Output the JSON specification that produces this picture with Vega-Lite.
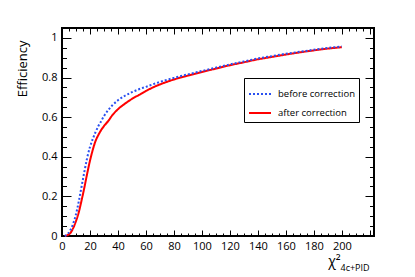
{
  "$schema": "https://vega.github.io/schema/vega-lite/v6.json",
  "autosize": "none",
  "width": 312,
  "height": 208,
  "padding": {"left": 62, "top": 28, "right": 41, "bottom": 41},
  "background": "white",
  "config": {
    "view": {"stroke": "black", "strokeWidth": 2},
    "font": "Open Sans",
    "axis": {"domain": false, "grid": false, "tickColor": "black", "tickWidth": 1, "labelFont": "Open Sans", "labelFontSize": 11, "labelColor": "black", "titleFont": "Open Sans", "titleColor": "black", "titleFontWeight": "normal"}
  },
  "data": {"values": [
    {"x": 2, "y": 0.0, "series": "after correction"},
    {"x": 4, "y": 0.005, "series": "after correction"},
    {"x": 6, "y": 0.015, "series": "after correction"},
    {"x": 8, "y": 0.04, "series": "after correction"},
    {"x": 10, "y": 0.075, "series": "after correction"},
    {"x": 12, "y": 0.12, "series": "after correction"},
    {"x": 14, "y": 0.18, "series": "after correction"},
    {"x": 16, "y": 0.245, "series": "after correction"},
    {"x": 18, "y": 0.315, "series": "after correction"},
    {"x": 20, "y": 0.38, "series": "after correction"},
    {"x": 22, "y": 0.435, "series": "after correction"},
    {"x": 24, "y": 0.48, "series": "after correction"},
    {"x": 26, "y": 0.51, "series": "after correction"},
    {"x": 28, "y": 0.535, "series": "after correction"},
    {"x": 30, "y": 0.555, "series": "after correction"},
    {"x": 33, "y": 0.58, "series": "after correction"},
    {"x": 36, "y": 0.61, "series": "after correction"},
    {"x": 40, "y": 0.64, "series": "after correction"},
    {"x": 45, "y": 0.668, "series": "after correction"},
    {"x": 50, "y": 0.692, "series": "after correction"},
    {"x": 55, "y": 0.712, "series": "after correction"},
    {"x": 60, "y": 0.732, "series": "after correction"},
    {"x": 65, "y": 0.75, "series": "after correction"},
    {"x": 70, "y": 0.765, "series": "after correction"},
    {"x": 80, "y": 0.79, "series": "after correction"},
    {"x": 90, "y": 0.81, "series": "after correction"},
    {"x": 100, "y": 0.828, "series": "after correction"},
    {"x": 110, "y": 0.845, "series": "after correction"},
    {"x": 120, "y": 0.862, "series": "after correction"},
    {"x": 130, "y": 0.877, "series": "after correction"},
    {"x": 140, "y": 0.892, "series": "after correction"},
    {"x": 150, "y": 0.904, "series": "after correction"},
    {"x": 160, "y": 0.916, "series": "after correction"},
    {"x": 170, "y": 0.927, "series": "after correction"},
    {"x": 180, "y": 0.937, "series": "after correction"},
    {"x": 190, "y": 0.946, "series": "after correction"},
    {"x": 200, "y": 0.953, "series": "after correction"},
    {"x": 2, "y": 0.0, "series": "before correction"},
    {"x": 4, "y": 0.01, "series": "before correction"},
    {"x": 6, "y": 0.03, "series": "before correction"},
    {"x": 8, "y": 0.063, "series": "before correction"},
    {"x": 10, "y": 0.11, "series": "before correction"},
    {"x": 12, "y": 0.175, "series": "before correction"},
    {"x": 14, "y": 0.25, "series": "before correction"},
    {"x": 16, "y": 0.325, "series": "before correction"},
    {"x": 18, "y": 0.395, "series": "before correction"},
    {"x": 20, "y": 0.45, "series": "before correction"},
    {"x": 22, "y": 0.49, "series": "before correction"},
    {"x": 24, "y": 0.525, "series": "before correction"},
    {"x": 26, "y": 0.555, "series": "before correction"},
    {"x": 28, "y": 0.58, "series": "before correction"},
    {"x": 30, "y": 0.605, "series": "before correction"},
    {"x": 33, "y": 0.635, "series": "before correction"},
    {"x": 36, "y": 0.66, "series": "before correction"},
    {"x": 40, "y": 0.685, "series": "before correction"},
    {"x": 45, "y": 0.708, "series": "before correction"},
    {"x": 50, "y": 0.726, "series": "before correction"},
    {"x": 55, "y": 0.741, "series": "before correction"},
    {"x": 60, "y": 0.753, "series": "before correction"},
    {"x": 65, "y": 0.766, "series": "before correction"},
    {"x": 70, "y": 0.778, "series": "before correction"},
    {"x": 80, "y": 0.798, "series": "before correction"},
    {"x": 90, "y": 0.816, "series": "before correction"},
    {"x": 100, "y": 0.833, "series": "before correction"},
    {"x": 110, "y": 0.85, "series": "before correction"},
    {"x": 120, "y": 0.866, "series": "before correction"},
    {"x": 130, "y": 0.881, "series": "before correction"},
    {"x": 140, "y": 0.896, "series": "before correction"},
    {"x": 150, "y": 0.908, "series": "before correction"},
    {"x": 160, "y": 0.92, "series": "before correction"},
    {"x": 170, "y": 0.93, "series": "before correction"},
    {"x": 180, "y": 0.94, "series": "before correction"},
    {"x": 190, "y": 0.949, "series": "before correction"},
    {"x": 200, "y": 0.957, "series": "before correction"}
  ]},
  "resolve": {"axis": {"x": "independent", "y": "independent"}},
  "layer": [
    {
      "transform": [{"filter": "datum.series === 'after correction'"}],
      "mark": {"type": "line", "interpolate": "monotone", "strokeWidth": 2},
      "encoding": {
        "x": {"field": "x", "type": "quantitative", "scale": {"domain": [0, 223], "nice": false, "zero": false},
          "axis": {"orient": "bottom", "values": [0,5,10,15,20,25,30,35,40,45,50,55,60,65,70,75,80,85,90,95,100,105,110,115,120,125,130,135,140,145,150,155,160,165,170,175,180,185,190,195,200,205,210,215,220],
            "tickSize": {"condition": {"test": "datum.value % 20 === 0", "value": -6}, "value": -3},
            "labelExpr": "datum.value % 20 === 0 && datum.value <= 200 ? datum.label : ''", "labelPadding": 10, "labelFlush": false, "labelOverlap": false,
            "title": "χ²", "titleFontSize": 14, "titleX": 272, "titleY": 29, "titleAlign": "center", "titleBaseline": "alphabetic"}},
        "y": {"field": "y", "type": "quantitative", "scale": {"domain": [0, 1.05], "nice": false, "zero": false},
          "axis": {"orient": "left", "values": [0,0.05,0.1,0.15,0.2,0.25,0.3,0.35,0.4,0.45,0.5,0.55,0.6,0.65,0.7,0.75,0.8,0.85,0.9,0.95,1,1.05],
            "tickSize": {"condition": {"test": "abs(datum.value*5 - round(datum.value*5)) < 0.000001", "value": -9}, "value": -4.5},
            "format": "~g",
            "labelExpr": "abs(datum.value*5 - round(datum.value*5)) < 0.000001 ? datum.label : ''", "labelPadding": 14, "labelFlush": false, "labelOverlap": false,
            "title": "Efficiency", "titleFontSize": 13, "titleAngle": -90, "titleX": -40, "titleY": 12, "titleAlign": "right", "titleBaseline": "middle"}},
        "color": {"field": "series", "type": "nominal",
          "scale": {"domain": ["before correction", "after correction"], "range": ["#2a50f0", "#ff0000"]},
          "legend": {"orient": "none", "legendX": 182, "legendY": 50, "title": null, "symbolType": "stroke", "symbolSize": 484, "symbolStrokeWidth": 2,
            "labelFont": "Open Sans", "labelFontSize": 9.5, "labelColor": "black", "labelOffset": 6, "rowPadding": 2, "padding": 4,
            "fillColor": "white", "strokeColor": "black",
            "labelExpr": "datum.label + '\u00a0\u00a0\u00a0\u00a0\u00a0'"}},
        "strokeDash": {"field": "series", "type": "nominal",
          "scale": {"domain": ["before correction", "after correction"], "range": [[2, 2], [1, 0]]}}
      }
    },
    {
      "transform": [{"filter": "datum.series === 'before correction'"}],
      "mark": {"type": "line", "interpolate": "monotone", "strokeWidth": 2},
      "encoding": {
        "x": {"field": "x", "type": "quantitative",
          "axis": {"orient": "top", "values": [0,5,10,15,20,25,30,35,40,45,50,55,60,65,70,75,80,85,90,95,100,105,110,115,120,125,130,135,140,145,150,155,160,165,170,175,180,185,190,195,200,205,210,215,220],
            "tickSize": {"condition": {"test": "datum.value % 20 === 0", "value": -6}, "value": -3},
            "labels": false, "title": null}},
        "y": {"field": "y", "type": "quantitative",
          "axis": {"orient": "right", "values": [0,0.05,0.1,0.15,0.2,0.25,0.3,0.35,0.4,0.45,0.5,0.55,0.6,0.65,0.7,0.75,0.8,0.85,0.9,0.95,1,1.05],
            "tickSize": {"condition": {"test": "abs(datum.value*5 - round(datum.value*5)) < 0.000001", "value": -9}, "value": -4.5},
            "labels": false,
            "title": "4c+PID", "titleFontSize": 9, "titleAngle": 0, "titleX": -34, "titleY": 242, "titleAlign": "left", "titleBaseline": "alphabetic"}},
        "color": {"field": "series", "type": "nominal"},
        "strokeDash": {"field": "series", "type": "nominal"}
      }
    }
  ]
}
